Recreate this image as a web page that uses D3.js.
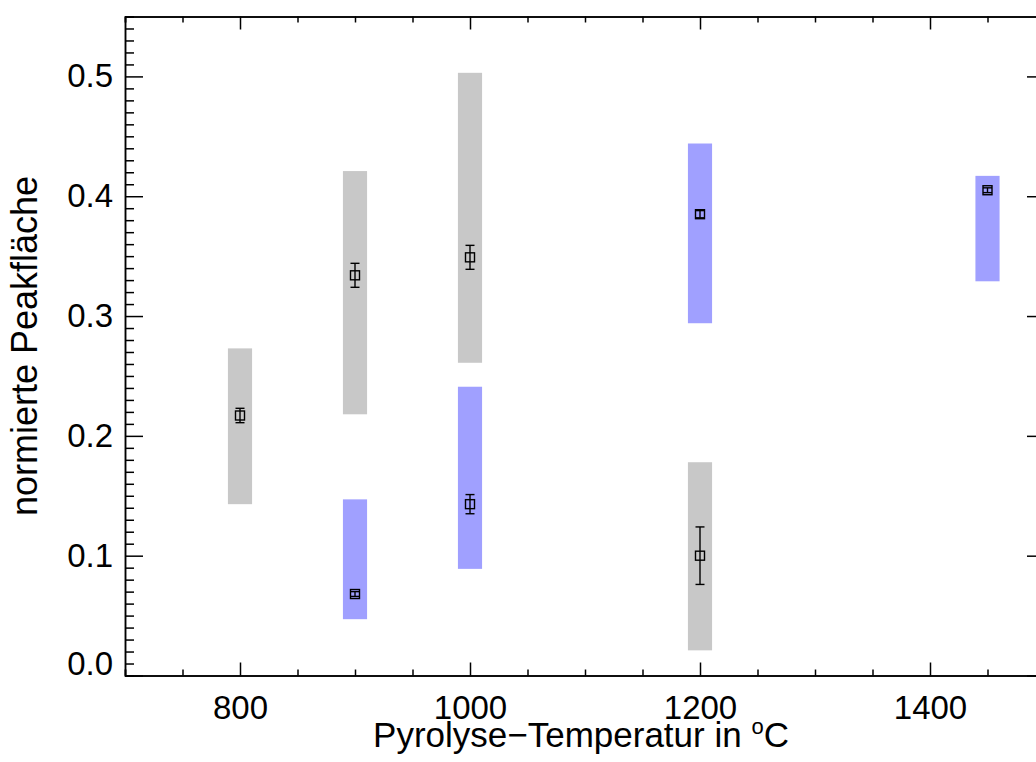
<!DOCTYPE html>
<html lang="de">
<head>
<meta charset="UTF-8">
<title>Peakfläche vs Pyrolyse-Temperatur</title>
<script src="https://d3js.org/d3.v7.min.js"></script>
<style>
  body { margin: 0; background: #fff; }
  svg { display: block; font-family: "Liberation Sans", Arial, sans-serif; }
  .axis path, .axis line { stroke: #000; stroke-width: 1.5; }
  .axis text { font-size: 33px; fill: #000; }
</style>
</head>
<body>
<svg id="chart" width="1036" height="762"></svg>
<script>
  // grey series: range bars + mean with error
  const greyTemp = [800, 900, 1000, 1200];
  const greyLow = [0.143, 0.218, 0.261, 0.021];
  const greyHigh = [0.273, 0.421, 0.503, 0.178];
  const greyValue = [0.217, 0.334, 0.349, 0.100];
  const greyErr = [0.006, 0.010, 0.010, 0.024];

  // blue series
  const blueTemp = [900, 1000, 1200, 1450];
  const blueLow = [0.047, 0.089, 0.294, 0.329];
  const blueHigh = [0.147, 0.241, 0.444, 0.417];
  const blueValue = [0.068, 0.143, 0.385, 0.405];
  const blueErr = [0.002, 0.008, 0.003, 0.002];

  const xMajor = [800, 1000, 1200, 1400];
  const yMajor = [0, 0.1, 0.2, 0.3, 0.4, 0.5];

  const margin = { left: 125, right: 1045, top: 16.5, bottom: 675.5 };
  const barHalf = 10.5; // in °C

  const svg = d3.select("#chart");

  const x = d3.scaleLinear().domain([700, 1500]).range([margin.left, margin.right]);
  const y = d3.scaleLinear().domain([0, 0.55]).range([margin.bottom, margin.top]);

  // build rows for each series
  function rows(t, lo, hi, v, e, color) {
    return t.map((d, i) => ({ t: d, lo: lo[i], hi: hi[i], v: v[i], e: e[i], color }));
  }
  const data = rows(greyTemp, greyLow, greyHigh, greyValue, greyErr, "#c8c8c8")
    .concat(rows(blueTemp, blueLow, blueHigh, blueValue, blueErr, "#a0a0ff"));

  // range bars
  svg.append("g").selectAll("rect")
    .data(data)
    .join("rect")
    .attr("x", d => x(d.t - barHalf))
    .attr("width", d => x(d.t + barHalf) - x(d.t - barHalf))
    .attr("y", d => y(d.hi))
    .attr("height", d => y(d.lo) - y(d.hi))
    .attr("fill", d => d.color);

  // error bars and square markers
  const pts = svg.append("g").attr("stroke", "#000").attr("stroke-width", 1.4).attr("fill", "none");
  pts.selectAll("line.err")
    .data(data).join("line").attr("class", "err")
    .attr("x1", d => x(d.t)).attr("x2", d => x(d.t))
    .attr("y1", d => y(d.v - d.e)).attr("y2", d => y(d.v + d.e));
  pts.selectAll("line.capLo")
    .data(data).join("line").attr("class", "capLo")
    .attr("x1", d => x(d.t) - 4.5).attr("x2", d => x(d.t) + 4.5)
    .attr("y1", d => y(d.v - d.e)).attr("y2", d => y(d.v - d.e));
  pts.selectAll("line.capHi")
    .data(data).join("line").attr("class", "capHi")
    .attr("x1", d => x(d.t) - 4.5).attr("x2", d => x(d.t) + 4.5)
    .attr("y1", d => y(d.v + d.e)).attr("y2", d => y(d.v + d.e));
  pts.selectAll("rect")
    .data(data).join("rect")
    .attr("x", d => x(d.t) - 4.5).attr("y", d => y(d.v) - 4.5)
    .attr("width", 9).attr("height", 9);

  // axes: ticks point inward
  const xMinor = d3.range(700, 1501, 50).filter(v => !xMajor.includes(v));
  const yMinor = d3.range(0, 56).map(v => v / 100).filter(v => Math.round(v * 100) % 10 !== 0);

  function drawX(yPos, labels) {
    const dir = labels ? -1 : 1;
    svg.append("g").attr("class", "axis").attr("transform", `translate(0,${yPos})`)
      .call(d3.axisBottom(x).tickValues(xMinor).tickSize(6 * dir).tickFormat(""));
    const gm = svg.append("g").attr("class", "axis").attr("transform", `translate(0,${yPos})`);
    gm.call(d3.axisBottom(x).tickValues(xMajor).tickSize(13 * dir).tickSizeOuter(0)
      .tickPadding(labels ? 20 : 0).tickFormat(labels ? d3.format("d") : ""));
    if (!labels) gm.selectAll("text").remove();
  }
  drawX(margin.bottom, true);
  drawX(margin.top, false);

  function drawY(xPos, labels) {
    const axisFn = labels ? d3.axisLeft : d3.axisRight;
    const dir = labels ? -1 : -1;
    svg.append("g").attr("class", "axis").attr("transform", `translate(${xPos},0)`)
      .call(axisFn(y).tickValues(yMinor).tickSize(9 * dir).tickFormat(""));
    const gm = svg.append("g").attr("class", "axis").attr("transform", `translate(${xPos},0)`)
      .call(axisFn(y).tickValues(yMajor).tickSize(18 * dir).tickSizeOuter(0)
        .tickPadding(labels ? 12 : 0).tickFormat(labels ? d3.format(".1f") : ""));
    if (labels) {
      // bottom label sits on the axis line
      gm.selectAll(".tick text").filter(d => d === 0).attr("dy", "-0.02em");
    } else {
      gm.selectAll("text").remove();
    }
  }
  drawY(margin.left, true);
  drawY(margin.right, false);

  // axis titles
  const xt = svg.append("text")
    .attr("x", (margin.left + margin.right) / 2 - 4)
    .attr("y", 747)
    .attr("text-anchor", "middle")
    .attr("font-size", 35)
    .text("Pyrolyse\u2212Temperatur in ");
  xt.append("tspan").attr("font-size", 22).attr("dy", -13).text("o");
  xt.append("tspan").attr("dy", 13).text("C");

  svg.append("text")
    .attr("transform", `translate(37,${(margin.top + margin.bottom) / 2}) rotate(-90)`)
    .attr("text-anchor", "middle")
    .attr("font-size", 36)
    .text("normierte Peakfläche");
</script>
</body>
</html>
